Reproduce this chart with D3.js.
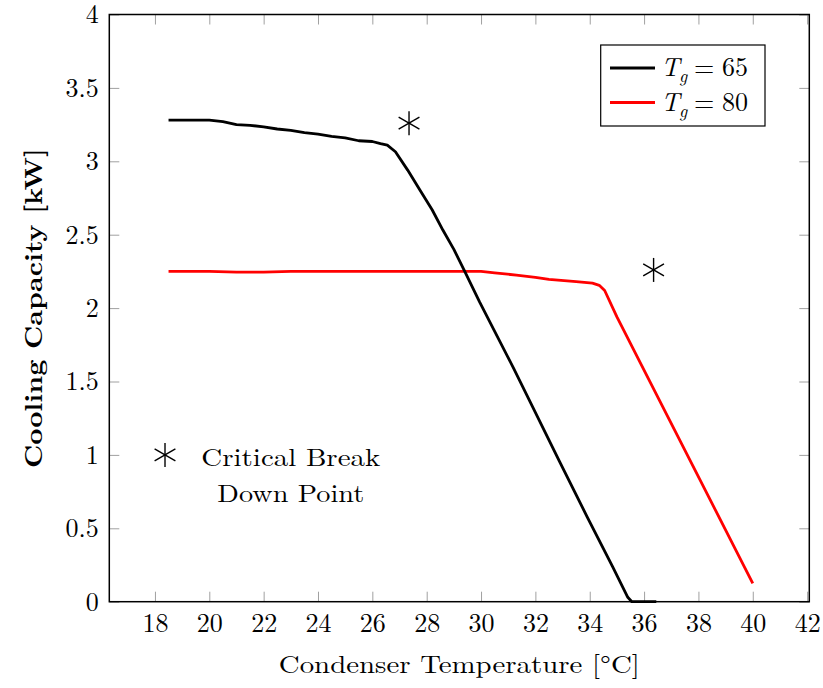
<!DOCTYPE html>
<html>
<head>
<meta charset="utf-8">
<script src="https://cdn.jsdelivr.net/npm/d3@7"></script>
<style>
  body { margin: 0; background: #fff; }
  text { font-family: "Latin Modern Roman", "CMU Serif", "Liberation Serif", serif; fill: #000; }
</style>
</head>
<body>
<div id="chart"></div>
<script>
// Data
var xTicks = [18, 20, 22, 24, 26, 28, 30, 32, 34, 36, 38, 40, 42];
var yTicks = [0, 0.5, 1, 1.5, 2, 2.5, 3, 3.5, 4];

// T_g = 65
var tg65X = [18.5, 19, 19.5, 20, 20.5, 21, 21.5, 22, 22.5, 23, 23.5, 24, 24.5, 25, 25.5, 26, 26.3, 26.55, 26.85,
             27.3, 27.75, 28.2, 28.6, 29.0, 29.4, 29.95, 31.2, 32.9, 33.9, 34.85, 35.4, 35.55, 36.45];
var tg65Y = [3.28, 3.28, 3.28, 3.28, 3.27, 3.25, 3.245, 3.235, 3.22, 3.21, 3.195, 3.185, 3.17, 3.16, 3.14, 3.135, 3.12, 3.11, 3.065,
             2.94, 2.805, 2.67, 2.53, 2.40, 2.25, 2.04, 1.59, 0.95, 0.58, 0.235, 0.03, 0, 0];

// T_g = 80
var tg80X = [18.5, 20, 21, 22, 23, 24, 25, 26, 27, 28, 29, 30, 30.5, 31.3, 32, 32.5, 33.5, 34.1, 34.35, 34.55, 35, 36.2, 40];
var tg80Y = [2.25, 2.25, 2.245, 2.245, 2.25, 2.25, 2.25, 2.25, 2.25, 2.25, 2.25, 2.25, 2.24, 2.225, 2.21, 2.195, 2.18, 2.17, 2.155, 2.12, 1.94, 1.505, 0.125];

// critical break down points
var breakX = [27.35, 36.35];
var breakY = [3.26, 2.26];

// annotation
var noteX = 18.37, noteY = 1.0, noteTextX = 23.0;
var noteLines = ["Critical Break", "Down Point"];

// SVG size and plot box
var W = 823, H = 688;
var plotLeft = 109.3, plotRight = 809.3, plotTop = 14.5, plotBottom = 601.7;

var x = d3.scaleLinear().domain([16.32, 42.08]).range([plotLeft, plotRight]);
var y = d3.scaleLinear().domain([0, 4]).range([plotBottom, plotTop]);

var svg = d3.select("#chart").append("svg")
    .attr("width", W)
    .attr("height", H);

var tickLen = 10;
var fontSize = 25;
var serif = "'Liberation Serif', serif";

// bottom axis (ticks inside)
var gx = svg.append("g")
    .attr("transform", "translate(0," + plotBottom + ")")
    .call(d3.axisBottom(x).tickValues(xTicks).tickSizeInner(-tickLen).tickSizeOuter(0).tickPadding(12).tickFormat(d3.format("d")));

// top axis
var gxt = svg.append("g")
    .attr("transform", "translate(0," + plotTop + ")")
    .call(d3.axisTop(x).tickValues(xTicks).tickSizeInner(-tickLen).tickSizeOuter(0).tickFormat(""));

// left axis
var gy = svg.append("g")
    .attr("transform", "translate(" + plotLeft + ",0)")
    .call(d3.axisLeft(y).tickValues(yTicks).tickSizeInner(-tickLen).tickSizeOuter(0).tickPadding(10.6).tickFormat(function(d) { return d; }));

// right axis
var gyr = svg.append("g")
    .attr("transform", "translate(" + plotRight + ",0)")
    .call(d3.axisRight(y).tickValues(yTicks).tickSizeInner(-tickLen).tickSizeOuter(0).tickFormat(""));

[gx, gxt, gy, gyr].forEach(function(g) {
    g.attr("font-family", serif).attr("font-size", 26);
    g.select(".domain").remove();
    g.selectAll(".tick line").attr("stroke", "#a0a0a0").attr("stroke-width", 1);
    g.selectAll(".tick text").attr("fill", "#000");
});

// hide ticks falling on the frame
[gx, gxt].forEach(function(g) {
    g.selectAll(".tick").filter(function(d) { return x(d) > plotRight - 1; }).select("line").remove();
});

// lines
var line = d3.line()
    .x(function(d) { return x(d[0]); })
    .y(function(d) { return y(d[1]); });

svg.append("path")
    .datum(d3.zip(tg80X, tg80Y))
    .attr("fill", "none")
    .attr("stroke", "#ff0000")
    .attr("stroke-width", 2.8)
    .attr("stroke-linejoin", "round")
    .attr("d", line);

svg.append("path")
    .datum(d3.zip(tg65X, tg65Y))
    .attr("fill", "none")
    .attr("stroke", "#000")
    .attr("stroke-width", 2.8)
    .attr("stroke-linejoin", "round")
    .attr("d", line);

// frame
svg.append("rect")
    .attr("x", plotLeft)
    .attr("y", plotTop)
    .attr("width", plotRight - plotLeft)
    .attr("height", plotBottom - plotTop)
    .attr("fill", "none")
    .attr("stroke", "#000")
    .attr("stroke-width", 1.5);

// asterisk marker
function asterisk(g, cx, cy, r) {
    [90, 30, 150].forEach(function(a) {
        var rad = a * Math.PI / 180;
        g.append("line")
            .attr("x1", cx - r * Math.cos(rad))
            .attr("y1", cy - r * Math.sin(rad))
            .attr("x2", cx + r * Math.cos(rad))
            .attr("y2", cy + r * Math.sin(rad))
            .attr("stroke", "#000")
            .attr("stroke-width", 1.4);
    });
}

var marks = svg.append("g");
breakX.forEach(function(bx, i) {
    asterisk(marks, x(bx), y(breakY[i]), 12);
});
asterisk(marks, x(noteX), y(noteY), 12);

svg.selectAll(".note")
    .data(noteLines)
    .enter().append("text")
    .attr("class", "note")
    .attr("x", x(noteTextX))
    .attr("y", function(d, i) { return y(noteY) + 11 + i * 36; })
    .attr("text-anchor", "middle")
    .style("font-size", fontSize + "px")
    .attr("textLength", function(d, i) { return i === 0 ? 179 : 147; })
    .attr("lengthAdjust", "spacingAndGlyphs")
    .text(function(d) { return d; });

// axis labels
svg.append("text")
    .attr("x", (plotLeft + plotRight) / 2)
    .attr("y", 673)
    .attr("text-anchor", "middle")
    .style("font-size", fontSize + "px")
    .attr("textLength", 361)
    .attr("lengthAdjust", "spacingAndGlyphs")
    .text("Condenser Temperature [°C]");

svg.append("text")
    .attr("transform", "translate(41.5," + ((plotTop + plotBottom) / 2) + ") rotate(-90)")
    .attr("text-anchor", "middle")
    .style("font-size", fontSize + "px")
    .style("font-weight", "bold")
    .attr("textLength", 320)
    .attr("lengthAdjust", "spacingAndGlyphs")
    .text("Cooling Capacity [kW]");

// legend
var legend = svg.append("g");
legend.append("rect")
    .attr("x", 600.7)
    .attr("y", 45)
    .attr("width", 164.3)
    .attr("height", 81)
    .attr("fill", "#fff")
    .attr("stroke", "#000")
    .attr("stroke-width", 1.2);

var legendItems = [
    {label: "65", color: "#000", ly: 68},
    {label: "80", color: "#ff0000", ly: 102.5}
];

legendItems.forEach(function(it) {
    legend.append("line")
        .attr("x1", 610).attr("x2", 655)
        .attr("y1", it.ly).attr("y2", it.ly)
        .attr("stroke", it.color)
        .attr("stroke-width", 2.8);
    var t = legend.append("text")
        .attr("y", it.ly + 8)
        .style("font-size", "26px");
    t.append("tspan").attr("x", 661).style("font-style", "italic").text("T");
    t.append("tspan").attr("x", 679).attr("dy", 6).style("font-style", "italic").style("font-size", "18px").text("g");
    t.append("tspan").attr("x", 694).attr("dy", -6).text("=");
    t.append("tspan").attr("x", 722).text(it.label);
});
</script>
</body>
</html>
